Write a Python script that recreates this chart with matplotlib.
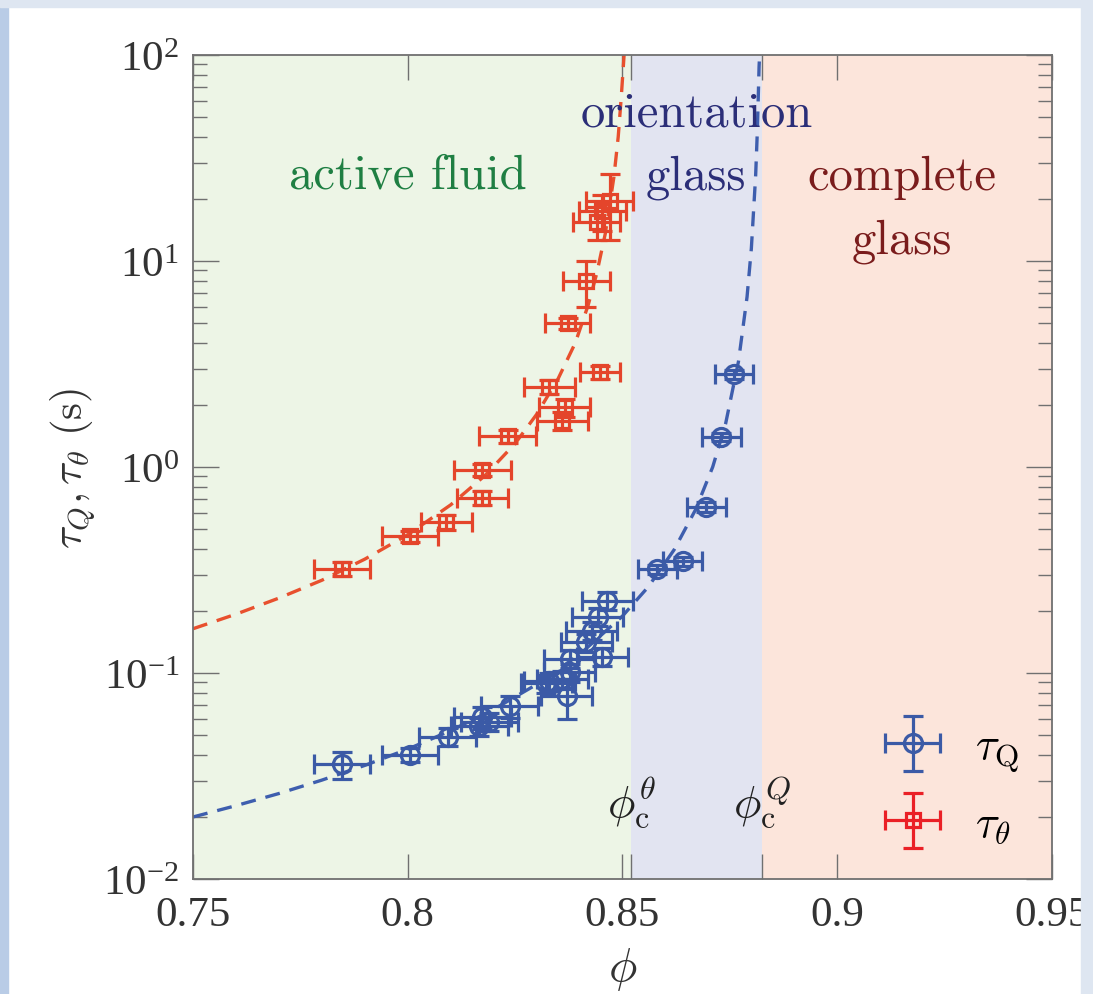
import numpy as np
import matplotlib
matplotlib.use("Agg")
import matplotlib.pyplot as plt
from matplotlib.patches import Rectangle
from matplotlib.container import ErrorbarContainer
from matplotlib.legend_handler import HandlerErrorbar

plt.rcParams['mathtext.fontset'] = 'cm'

# ---------------- data ----------------
# tau_theta (red squares)
phi_theta = [0.7847, 0.8005, 0.8090, 0.8174, 0.8174, 0.8233, 0.8330, 0.8365, 0.8360,
             0.8372, 0.8447, 0.8416, 0.8440, 0.8453, 0.8470]
tau_theta = [0.32, 0.46, 0.54, 0.71, 0.97, 1.41, 2.45, 1.95, 1.68,
             5.0, 2.89, 8.0, 15.5, 17.5, 19.5]
phi_theta_err = [0.0066, 0.0066, 0.0060, 0.0060, 0.0066, 0.0066, 0.0060, 0.0060, 0.0060,
                 0.0052, 0.0047, 0.0055, 0.0055, 0.0055, 0.0055]
tau_theta_relerr = [0.08, 0.06, 0.08, 0.08, 0.07, 0.07, 0.08, 0.10, 0.10,
                    0.06, 0.07, 0.25, 0.18, 0.20, 0.35]

# tau_Q (blue circles)
phi_Q = [0.7847, 0.8005, 0.8093, 0.8167, 0.8174, 0.8190, 0.8237, 0.8323, 0.8330, 0.8360,
         0.8370, 0.8377, 0.8377, 0.8416, 0.8428, 0.8442, 0.8453, 0.8465,
         0.8581, 0.8640, 0.8695, 0.8730, 0.8760]
tau_Q = [0.036, 0.040, 0.049, 0.055, 0.061, 0.058, 0.069, 0.089, 0.091, 0.093,
         0.077, 0.101, 0.117, 0.141, 0.160, 0.187, 0.120, 0.224,
         0.32, 0.35, 0.64, 1.40, 2.83]
phi_Q_err = [0.0066, 0.0066, 0.0066, 0.0066, 0.0066, 0.0066, 0.0066, 0.0060, 0.0060, 0.0060,
             0.0060, 0.0060, 0.0060, 0.0060, 0.0060, 0.0060, 0.0060, 0.0060,
             0.0045, 0.0045, 0.0045, 0.0045, 0.0045]
tau_Q_relerr = [0.15, 0.08, 0.10, 0.10, 0.12, 0.10, 0.12, 0.10, 0.10, 0.10,
                0.22, 0.10, 0.10, 0.10, 0.10, 0.10, 0.10, 0.10,
                0.05, 0.05, 0.06, 0.05, 0.05]

# dashed guide curves
fit_theta_phi = [0.750, 0.760, 0.770, 0.780, 0.790, 0.800, 0.810, 0.818, 0.825, 0.830,
                 0.835, 0.839, 0.842, 0.844, 0.846, 0.848, 0.849, 0.8497, 0.8503, 0.8506]
fit_theta_tau = [0.164, 0.193, 0.231, 0.282, 0.357, 0.469, 0.655, 0.91, 1.30, 1.80,
                 2.68, 4.0, 6.1, 8.7, 13.6, 25.6, 40.0, 62.0, 95.0, 120.0]
fit_Q_phi = [0.750, 0.760, 0.770, 0.780, 0.790, 0.800, 0.810, 0.820, 0.830, 0.840,
             0.850, 0.856, 0.862, 0.867, 0.871, 0.874, 0.877, 0.879, 0.880, 0.881,
             0.8814, 0.8818, 0.8821]
fit_Q_tau = [0.0200, 0.0227, 0.0260, 0.0302, 0.0356, 0.0427, 0.0525, 0.0666, 0.088, 0.123,
             0.189, 0.262, 0.396, 0.62, 1.0, 1.62, 3.25, 6.7, 11.5, 26.0,
             43.0, 88.0, 120.0]

phi_c_theta = 0.852
phi_c_Q = 0.8825
xticks = [0.75, 0.80, 0.85, 0.90, 0.95]
xtick_labels = ['0.75', '0.8', '0.85', '0.9', '0.95']
yticks = [1e-2, 1e-1, 1e0, 1e1, 1e2]
ytick_exps = ['-2', '-1', '0', '1', '2']

# ---------------- styling ----------------
C_RED = '#E4452B'
C_RED_LEG = '#EA2026'
C_BLUE = '#3B5AA6'
C_GREEN_BG = '#EDF5E6'
C_BLUE_BG = '#E2E4F1'
C_PINK_BG = '#FCE5DB'
AX_GRAY = '#707070'
LW = 2.3
CAP = 7.5

W, H = 1093, 995
fig = plt.figure(figsize=(W / 100, H / 100), dpi=100)
fig.patch.set_facecolor('white')
ax = fig.add_axes([193 / W, 1 - 880 / H, (1052 - 193) / W, (880 - 56) / H])

ax.set_yscale('log')
ax.set_xlim(0.75, 0.95)
ax.set_ylim(1e-2, 1e2)

ax.axvspan(0.75, phi_c_theta, color=C_GREEN_BG, lw=0, zorder=0)
ax.axvspan(phi_c_theta, phi_c_Q, color=C_BLUE_BG, lw=0, zorder=0)
ax.axvspan(phi_c_Q, 0.95, color=C_PINK_BG, lw=0, zorder=0)

ax.plot(fit_theta_phi, fit_theta_tau, ls=(0, (4.5, 3)), color='#E8502E', lw=2.4, zorder=2)
ax.plot(fit_Q_phi, fit_Q_tau, ls=(0, (4.5, 3)), color='#3E5EAE', lw=2.4, zorder=2)

tt = np.array(tau_theta)
ax.errorbar(phi_theta, tau_theta, xerr=phi_theta_err, yerr=tt * np.array(tau_theta_relerr),
            fmt='s', ms=10, mfc='none', mec=C_RED, mew=LW, ecolor=C_RED, elinewidth=LW,
            capsize=CAP, capthick=LW, zorder=3)
tq = np.array(tau_Q)
ax.errorbar(phi_Q, tau_Q, xerr=phi_Q_err, yerr=tq * np.array(tau_Q_relerr),
            fmt='o', ms=13, mfc='none', mec=C_BLUE, mew=LW, ecolor=C_BLUE, elinewidth=LW,
            capsize=CAP, capthick=LW, zorder=4)

# legend proxies
hQ = ax.errorbar([np.nan], [np.nan], xerr=[0.01], yerr=[0.01], fmt='o', ms=13, mfc='none',
                 mec=C_BLUE, mew=LW, ecolor=C_BLUE, elinewidth=LW, capsize=CAP, capthick=LW)
hT = ax.errorbar([np.nan], [np.nan], xerr=[0.01], yerr=[0.01], fmt='s', ms=10, mfc='none',
                 mec=C_RED_LEG, mew=LW, ecolor=C_RED_LEG, elinewidth=LW, capsize=CAP, capthick=LW)
leg = ax.legend([hQ, hT], [r'$\tau_{\rm Q}$', r'$\tau_{\theta}$'], frameon=False,
                fontsize=32, loc='upper left', bbox_to_anchor=(866 / W, 1 - 708 / H),
                bbox_transform=fig.transFigure, handlelength=1.3, handletextpad=0.75,
                labelspacing=0.62, borderaxespad=0,
                handler_map={ErrorbarContainer: HandlerErrorbar(xerr_size=0.62, yerr_size=0.62)})

# region labels
FS_REG = 35
ax.text(0.800, 26, 'active fluid', color='#1F7F43', fontsize=FS_REG, family='cmr10',
        ha='center', va='center')
ax.text(0.8672, 52, 'orientation', color='#2B2E78', fontsize=FS_REG, family='cmr10',
        ha='center', va='center')
ax.text(0.8672, 25.6, 'glass', color='#2B2E78', fontsize=FS_REG, family='cmr10',
        ha='center', va='center')
ax.text(0.9151, 25.6, 'complete', color='#7A1C1C', fontsize=FS_REG, family='cmr10',
        ha='center', va='center')
ax.text(0.9151, 12.6, 'glass', color='#7A1C1C', fontsize=FS_REG, family='cmr10',
        ha='center', va='center')
ax.text(phi_c_theta, 0.0235, r'$\phi_{\rm c}^{\theta}$', fontsize=33, color='#222222',
        ha='center', va='center')
ax.text(phi_c_Q, 0.0235, r'$\phi_{\rm c}^{Q}$', fontsize=33, color='#222222',
        ha='center', va='center')

# axes styling
for s in ax.spines.values():
    s.set_color(AX_GRAY)
    s.set_linewidth(1.3)
ax.set_xticks(xticks)
ax.set_xticklabels(xtick_labels, family='Liberation Serif', fontsize=31, color='#333333')
ax.set_xticks([phi_c_theta, phi_c_Q], minor=True)
ax.set_yticks(yticks)
ax.set_yticklabels([r'$\mathregular{10^{%s}}$' % e for e in ytick_exps],
                   family='Liberation Serif', fontsize=31, color='#333333')
ax.yaxis.set_minor_locator(matplotlib.ticker.LogLocator(base=10, subs=np.arange(2, 10), numticks=20))
ax.yaxis.set_minor_formatter(matplotlib.ticker.NullFormatter())
ax.tick_params(axis='both', which='both', direction='in', top=True, right=True, color=AX_GRAY)
ax.tick_params(axis='x', which='both', length=18, width=1.0, pad=12)
ax.tick_params(axis='y', which='major', length=19, width=1.0, pad=10)
ax.tick_params(axis='y', which='minor', length=10, width=1.0)

ax.set_xlabel(r'$\phi$', fontsize=34, labelpad=8, color='#333333')
ax.set_ylabel(r'$\tau_Q, \tau_\theta\ (\mathrm{s})$', fontsize=31, labelpad=4, color='#333333')

# page frame (border of the source screenshot)
fig.patches.append(Rectangle((0, 0), 8 / W, 1, transform=fig.transFigure,
                             color='#B9CCE6', zorder=10))
fig.patches.append(Rectangle((0, 1 - 8 / H), 1, 8 / H, transform=fig.transFigure,
                             color='#DEE6F1', zorder=10))
fig.patches.append(Rectangle((1081 / W, 0), 12 / W, 1, transform=fig.transFigure,
                             color='#DEE6F1', zorder=10))

fig.savefig('out.png', dpi=100)
